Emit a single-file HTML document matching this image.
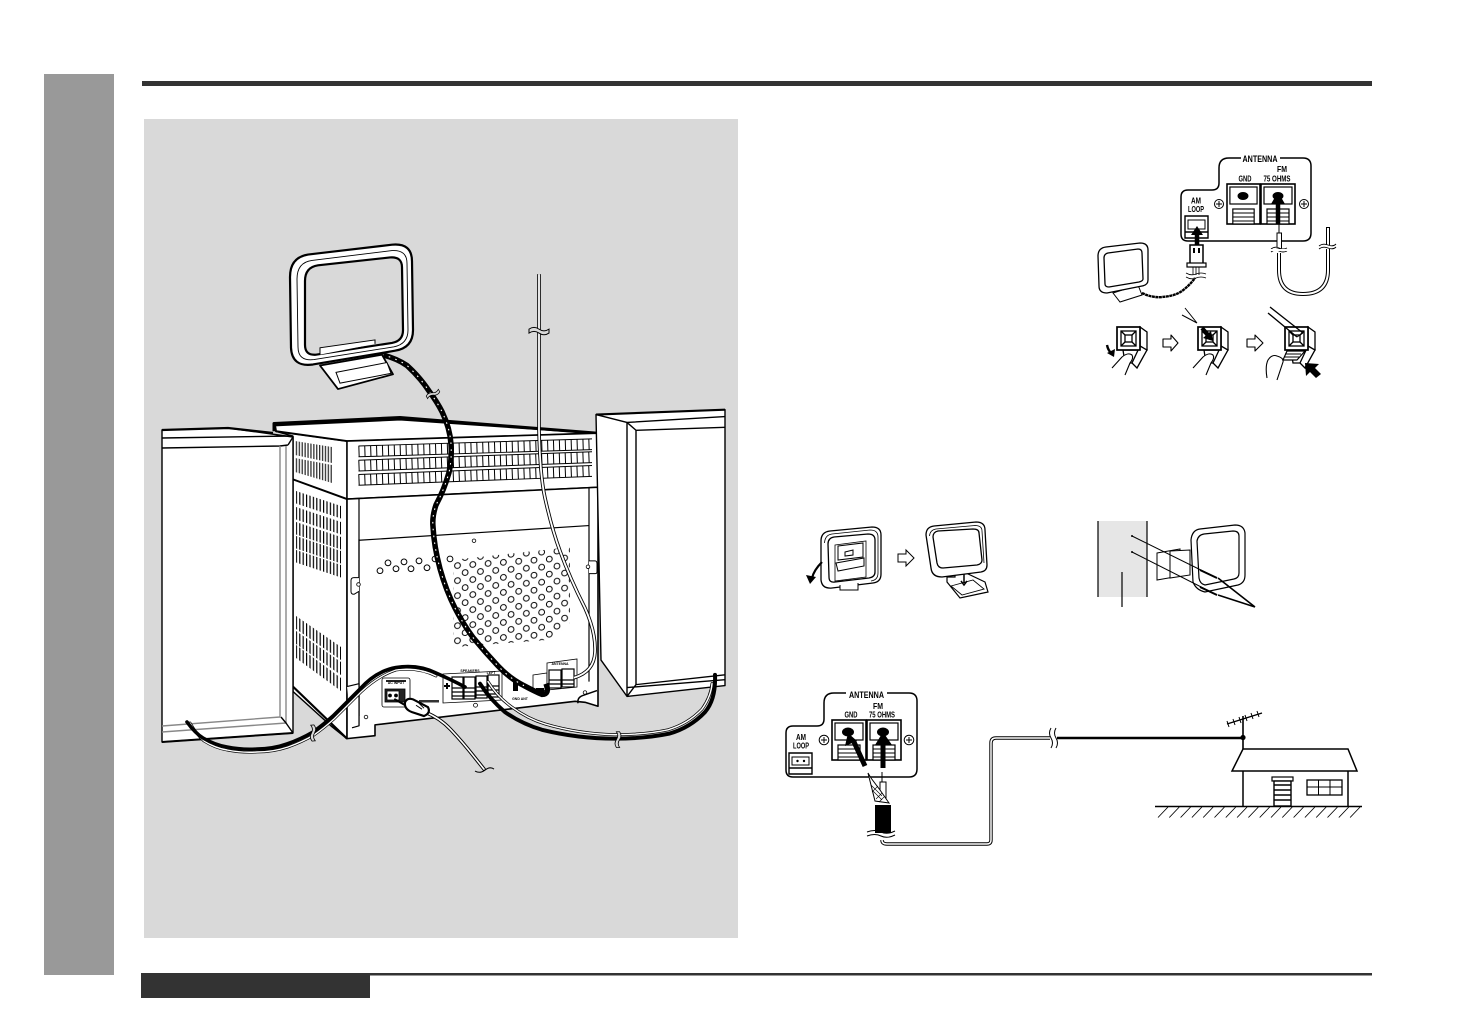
<!DOCTYPE html>
<html><head><meta charset="utf-8"><style>
html,body{margin:0;padding:0;background:#fff}
svg{display:block}
text{font-family:"Liberation Sans",sans-serif;font-weight:bold;fill:#000;text-anchor:middle}
</style></head><body>
<svg width="1458" height="1032" viewBox="0 0 1458 1032" xmlns="http://www.w3.org/2000/svg">
<defs>
<pattern id="dots" patternUnits="userSpaceOnUse" width="15.3" height="15.3" patternTransform="translate(453.7 568.27) skewY(-4.1)">
<circle cx="3.8" cy="3.8" r="2.9" fill="#fff" stroke="#000" stroke-width="1"/>
<circle cx="11.45" cy="11.45" r="2.9" fill="#fff" stroke="#000" stroke-width="1"/>
</pattern>
<pattern id="tick" patternUnits="userSpaceOnUse" width="3.4" height="10"><rect width="1.2" height="10" fill="#000"/></pattern>
<pattern id="tick2" patternUnits="userSpaceOnUse" width="2.9" height="10"><rect width="1.3" height="10" fill="#333"/></pattern>
<path id="bg" d="M-10,-2 q5,-3.5 10,0 t10,0 L10,2 q-5,3.5 -10,0 t-10,0 z" fill="#d9d9d9" stroke="#000" stroke-width="1"/>
<path id="bw" d="M-10,-2 q5,-3.5 10,0 t10,0 L10,2 q-5,3.5 -10,0 t-10,0 z" fill="#fff" stroke="#000" stroke-width="1"/>
<g id="term">
<rect x="0" y="0" width="34" height="40" fill="#fff" stroke="#000" stroke-width="1.6"/>
<rect x="3" y="3" width="28" height="17" fill="#fff" stroke="#000" stroke-width="1.2"/>
<rect x="6" y="25" width="22" height="15" fill="#fff" stroke="#000" stroke-width="1.2"/>
<path d="M6,29H28M6,33H28M6,37H28" stroke="#000" stroke-width="1.1"/>
</g>
<g id="cube" fill="#fff" stroke="#000" stroke-width="1.3">
<path d="M23,0L30,5V23L23,23Z"/>
<path d="M6,23H23L17,36H8Z"/>
<path d="M23,19L30,23L20,41L15,36Z"/>
<rect x="0" y="0" width="23" height="23" stroke-width="1.7"/>
<rect x="4" y="4" width="15" height="15"/>
<path d="M4,4L8,8M19,4L15,8M4,19L8,15M19,19L15,15"/>
<rect x="8" y="8" width="7" height="7"/>
</g>
</defs>

<!-- page frame -->
<rect x="44" y="74" width="70" height="901" fill="#999"/>
<rect x="142" y="81" width="1230" height="5" fill="#333"/>
<rect x="141" y="973" width="1231" height="2.5" fill="#333"/>
<rect x="141" y="975" width="229" height="23" fill="#333"/>
<rect x="144" y="119" width="594" height="819" fill="#d9d9d9"/>

<!-- MAIN DEVICE -->
<g transform="matrix(1 0 0 .982 0 4.1)">
<g stroke="#000" stroke-linejoin="round">
<path d="M276,435L347,445V748L331,735L293,700V440Z" fill="#fff" stroke-width="1.5"/>
<path d="M275,429L400,423L598,437L347,445L276,435Z" fill="#fff" stroke-width="2"/>
<path d="M274,435V427L400,421L598,437" fill="none" stroke-width="3"/>
<path d="M293,484L347,504" fill="none" stroke-width="2"/>
<path d="M347,445L598,437V492L347,504Z" fill="#fff" stroke-width="1.5"/>
<path d="M347,504L598,492V715L585,711L575,710L375,734V745L347,748Z" fill="#fff" stroke-width="1.6"/>
<path d="M293,695L347,748" fill="none" stroke-width="2.2"/>
<path d="M359,504V735M589,492V690" fill="none" stroke-width="1.2"/>
<path d="M359,546L589,531" fill="none" stroke-width="1.2"/>
<path d="M359,545V725" fill="none" stroke-width="1.2"/>
<path d="M359,584H354Q351,584 351,587V598Q351,601 354,601L359,598" fill="#fff" stroke-width="1"/>
<path d="M589,567H595Q597,567 597,570V578Q597,580 595,580L589,580" fill="#fff" stroke-width="1"/>
<circle cx="358.5" cy="591" r="1.8" fill="#fff" stroke-width=".8"/>
<circle cx="588" cy="573" r="1.8" fill="#fff" stroke-width=".8"/>
<circle cx="474" cy="546.5" r="1.8" fill="#fff" stroke-width=".8"/>
<circle cx="366" cy="726" r="1.8" fill="#fff" stroke-width=".8"/>
<circle cx="475.5" cy="714" r="2" fill="#fff" stroke-width=".8"/>
<circle cx="585" cy="701" r="1.8" fill="#fff" stroke-width=".8"/>
<path d="M578,712Q577,706 583,704L597,699" fill="none" stroke-width="1.5"/>
<path d="M347,695L359,692V735L352,737" fill="#fff" stroke-width="1.2"/>
</g>
<g fill="none" stroke="#000">
<path d="M358.5,455.5L592,448.2" stroke-width="11" stroke-dasharray="1 4.9"/>
<path d="M358.5,470L592,461.4" stroke-width="11" stroke-dasharray="1 4.9"/>
<path d="M358.5,484.5L592,475.4" stroke-width="11" stroke-dasharray="1 4.9"/>
<path stroke-width="1" d="M358.5,450L592,442.7M358.5,461L592,453.7M358.5,464.5L592,455.9M358.5,475.5L592,466.9M358.5,479L592,469.9M358.5,490L592,480.9"/>
</g>
<path d="M453,566L570,553L570,630L553,647L453,655Z" fill="url(#dots)"/>
<g fill="#fff" stroke="#000" stroke-width="1">
<circle cx="380" cy="577" r="2.9"/><circle cx="388" cy="569" r="2.9"/><circle cx="396" cy="575" r="2.9"/><circle cx="404" cy="568" r="2.9"/><circle cx="411" cy="575" r="2.9"/><circle cx="419" cy="567" r="2.9"/><circle cx="427" cy="574" r="2.9"/><circle cx="435" cy="565" r="2.9"/><circle cx="450" cy="565" r="2.9"/>
</g>
</g>
<!-- side vents -->
<g fill="url(#tick2)">
<path d="M295,441L332,447V463L295,455Z"/>
<path d="M295,458L332,465V483L295,472Z"/>
</g>
<g fill="url(#tick)">
<path d="M296,491L341,506V518.5L296,503.5Z"/>
<path d="M296,507L341,522V534.5L296,519.5Z"/>
<path d="M296,522L341,537V549.5L296,534.5Z"/>
<path d="M296,536L341,551V563.5L296,548.5Z"/>
<path d="M296,550L341,565V577.5L296,562.5Z"/>
<path d="M296,616L341,647V660L296,629Z"/>
<path d="M296,631L341,662V675L296,644Z"/>
<path d="M296,645L341,678V691L296,658Z"/>
</g>
<!-- rear panels -->
<g stroke="#000" fill="#fff" stroke-width=".8">
<rect x="382" y="678" width="28" height="29" rx="2"/>
<rect x="385" y="689" width="20" height="13" fill="#222"/>
<rect x="387" y="691" width="12" height="9" fill="#fff"/>
<circle cx="390" cy="695.5" r="1.5" fill="#000"/><circle cx="396" cy="695.5" r="1.5" fill="#000"/>
<path d="M443,674L502,671V700L443,703Z"/>
<path d="M533,675L547,673V690L533,692Z"/>
<path d="M547,663L577,659V687L547,690Z"/>
</g>
<rect x="386" y="680" width="20" height="2" fill="#222"/>
<g fill="#fff" stroke="#000" stroke-width="1.2">
<rect x="452" y="677" width="11" height="22"/><rect x="464" y="677" width="11" height="22"/><rect x="476" y="676" width="11" height="22"/><rect x="488" y="675" width="11" height="22"/>
<rect x="549" y="670" width="12" height="18"/><rect x="562" y="669" width="12" height="18"/>
</g>
<path d="M452,688H463M452,692H463M452,696H463M464,688H475M464,692H475M464,696H475M476,687H487M476,691H487M476,695H487M488,686H499M488,690H499M488,694H499M549,680H561M549,684H561M562,680H574M562,684H574" stroke="#000" stroke-width="1.2"/>
<rect x="513" y="681" width="5" height="10" fill="#000"/>
<rect x="536" y="688" width="8" height="4" fill="#000"/>
<rect x="419" y="700" width="20" height="2.5" fill="#333"/>
<path d="M444,686l6,0M447,683l0,6" stroke="#000" stroke-width="2"/>
<text x="396" y="684" font-size="3.5">AC INPUT</text>
<text x="470" y="672" font-size="3.5">SPEAKERS</text>
<text x="491" y="674" font-size="3.5">LEFT</text>
<text x="520" y="700" font-size="3.5">GND ANT</text>
<text x="560" y="665" font-size="3.5">ANTENNA</text>

<!-- LEFT SPEAKER -->
<g stroke="#000" stroke-width="1.4" fill="#fff" stroke-linejoin="round">
<path d="M162,430L228,428L293,437V733L162,742Z"/>
<path d="M162,430L228,428L273,433" fill="none" stroke-width="2.2"/>
<path d="M162,438L293,436M162,448L280,446M288,445L293,437M280,446L288,445" fill="none"/>
<path d="M280,446V717L162,726M286,446V723L162,732" fill="none" stroke="#888"/>
<path d="M281,717L286,723L293,733" fill="none"/>
<path d="M162,742L293,733" fill="none" stroke-width="2"/>
</g>
<!-- RIGHT SPEAKER + wires -->
<g transform="matrix(1 0 0 .982 0 4.1)">
<g stroke="#000" stroke-width="1.4" fill="#fff" stroke-linejoin="round">
<path d="M596,418L725,413V694L627,705L601,668Z"/>
<path d="M596,418L627,426L725,420M627,426V705M636,434L725,431M636,434V693L725,683M627,426L636,434M627,705L636,693M627,696L725,688" fill="none"/>
<path d="M596,418L725,413" fill="none" stroke-width="2.2"/>
</g>
<path d="M539,275V434Q540,480 545,503Q552,535 560,557Q570,585 585,615Q596,640 595,660Q594,680 574,686" fill="none" stroke="#000" stroke-width="3.6"/>
<path d="M539,275V434Q540,480 545,503Q552,535 560,557Q570,585 585,615Q596,640 595,660Q594,680 574,686" fill="none" stroke="#fff" stroke-width="1.8"/>
<use href="#bg" transform="translate(539,333)"/>
<!-- Braided loop wire -->
<path d="M382,357Q397,361 407,368Q420,380 429,394Q437,405 442,415Q450,432 451,448Q452,463 449,477Q444,495 436,510Q432,522 433,532Q434,552 440,575Q446,597 455,615Q463,631 473,645Q485,660 498,674Q510,687 524,694Q535,700 542,703Q550,703 546,692" fill="none" stroke="#000" stroke-width="5.5"/>
<path d="M382,357Q397,361 407,368Q420,380 429,394Q437,405 442,415Q450,432 451,448Q452,463 449,477Q444,495 436,510Q432,522 433,532Q434,552 440,575Q446,597 455,615Q463,631 473,645Q485,660 498,674Q510,687 524,694" fill="none" stroke="#fff" stroke-width="1.1" stroke-dasharray="1.6 5.4"/>
<use href="#bg" transform="translate(433,397) rotate(-30) scale(.7)"/>
<!-- LOOP ANTENNA -->
<path d="M320,368L338,392L393,377L382,357Z" fill="#fff" stroke="#000" stroke-width="1.8" stroke-linejoin="round"/>
<path d="M336,375L387,365L391,376L340,386Z" fill="#fff" stroke="#000" stroke-width="1"/>
<path fill-rule="evenodd" d="M290,278Q290,258 308,255L392,245Q412,243 412,262L413,332Q413,350 395,353L313,367Q292,370 291,350Z M305,282Q305,268 318,266L390,258Q402,257 402,268L403,332Q403,343 392,345L316,357Q305,358 305,347Z" fill="#fff" stroke="#000" stroke-width="2.2"/>
<path d="M297,280Q297,263 312,261L392,251Q407,250 407,264L408,332Q408,346 394,349L314,362Q298,364 298,349Z" fill="none" stroke="#000" stroke-width=".9"/>
<path d="M320,357V350L375,342V346" fill="#fff" stroke="#000" stroke-width="1"/>
<!-- right speaker cable / AC cord -->
<g fill="none" stroke-linecap="round">
<path d="M480,692Q490,708 505,721Q522,733 542,739Q578,748 615,748Q645,748 669,743Q690,737 705,721Q716,708 715,683" stroke="#000" stroke-width="4"/>
<path d="M488,690Q497,705 512,716Q528,728 545,733Q578,743 615,744Q645,744 668,739Q688,733 702,718Q711,705 712,692" stroke="#000" stroke-width="3"/>
<path d="M488,690Q497,705 512,716Q528,728 545,733Q578,743 615,744Q645,744 668,739Q688,733 702,718Q711,705 712,692" stroke="#fff" stroke-width="1.5"/>
<path d="M425,721Q440,727 451,739Q463,752 473,765L484,779" stroke="#000" stroke-width="3.6"/>
<path d="M425,721Q440,727 451,739Q463,752 473,765L484,779" stroke="#fff" stroke-width="1.6"/>
<path d="M395,708L407,715" stroke="#000" stroke-width="2"/>
</g>
<path d="M405,711Q407,706 413,708L428,716Q431,722 424,725L412,721Q404,718 405,711Z" fill="#fff" stroke="#000" stroke-width="2.2"/>
<path d="M416,714l6,4M419,712l5,5" stroke="#000" stroke-width="1"/>
<use href="#bg" transform="translate(618,749) rotate(90) scale(.8)"/>
<path d="M475,781q5,3 10,-1t9,-1" fill="none" stroke="#000" stroke-width="1"/>
</g>
<!-- left speaker cable -->
<g fill="none" stroke-linecap="round">
<path d="M190,723Q197,735 204,741Q215,748 227,750Q242,753 257,752Q273,752 288,747Q302,742 314,735Q324,728 334,719L361,692Q378,676 396,670Q418,667 436,676" stroke="#000" stroke-width="2.8"/>
<path d="M190,723Q197,735 204,741Q215,748 227,750Q242,753 257,752Q273,752 288,747Q302,742 314,735Q324,728 334,719L361,692Q378,676 396,670Q418,667 436,676" stroke="#fff" stroke-width="1.4"/>
<path d="M187,722Q195,733 203,738Q215,745 227,747Q242,750 257,749Q273,749 287,744Q301,739 313,732Q323,725 333,716L360,689Q376,671 396,667.5Q418,664 436,673Q452,680 465,687" stroke="#000" stroke-width="3.6"/>
</g>
<use href="#bg" transform="translate(313,733) rotate(85) scale(.8)"/>

<!-- TOP RIGHT: antenna panel -->
<path d="M1219,168Q1219,158 1229,158H1303Q1311,158 1311,166V233Q1311,241 1303,241H1188Q1181,241 1181,234V197Q1181,190 1188,190H1212Q1219,190 1219,183Z" fill="#fff" stroke="#000" stroke-width="1.5"/>
<rect x="1241" y="153" width="39" height="9" fill="#fff"/>
<text x="1260" y="162" font-size="9.5" textLength="35" lengthAdjust="spacingAndGlyphs">ANTENNA</text>
<text x="1282" y="172" font-size="8.5" textLength="10" lengthAdjust="spacingAndGlyphs">FM</text>
<text x="1245" y="181.5" font-size="8.5" textLength="13" lengthAdjust="spacingAndGlyphs">GND</text>
<text x="1277" y="181.5" font-size="8.5" textLength="27" lengthAdjust="spacingAndGlyphs">75 OHMS</text>
<text x="1196" y="203.5" font-size="8.5" textLength="10" lengthAdjust="spacingAndGlyphs">AM</text>
<text x="1196" y="212" font-size="8.5" textLength="16" lengthAdjust="spacingAndGlyphs">LOOP</text>
<use href="#term" transform="translate(1227,184) scale(.97,1)"/>
<use href="#term" transform="translate(1261,184)"/>
<ellipse cx="1243" cy="196" rx="5.5" ry="4" fill="#000"/>
<ellipse cx="1278" cy="196" rx="5.5" ry="4" fill="#000"/>
<g fill="#fff" stroke="#000" stroke-width="1"><circle cx="1219" cy="204" r="4.5"/><circle cx="1304" cy="204" r="4.5"/></g>
<path d="M1216,204h6M1219,201v6M1301,204h6M1304,201v6" stroke="#000" stroke-width="1"/>
<path d="M1185,216H1208V238H1185ZM1185,232H1208" fill="#fff" stroke="#000" stroke-width="1.4"/>
<path d="M1188,220H1205V229H1188Z" fill="#fff" stroke="#000"/>
<path d="M1278,224V203M1197,247V234" stroke="#000" stroke-width="4.5"/>
<path d="M1271,204L1278,192L1285,204ZM1191,235L1197,226L1203,235Z" fill="#000"/>
<rect x="1190" y="245" width="13" height="19" fill="#fff" stroke="#000" stroke-width="1.5"/>
<path d="M1193,248h2v5h-2zM1198,248h2v5h-2z" fill="#000"/>
<rect x="1187" y="263" width="19" height="4" fill="#fff" stroke="#000" stroke-width="1.2"/>
<path d="M1193,267V275M1196,267V275M1199,267V275" stroke="#000" stroke-width=".8"/>
<path d="M1186,273q5,3 10,1t10,0M1186,277q5,3 10,1t10,0" fill="none" stroke="#000" stroke-width=".8"/>
<!-- small loop -->
<path d="M1113,293L1120,302L1142,295L1138,285Z" fill="#fff" stroke="#000" stroke-width="1"/>
<path fill-rule="evenodd" d="M1098,256Q1098,248 1106,247L1140,243Q1148,243 1148,250L1148,280Q1148,285 1142,286L1107,293Q1099,293 1099,286Z M1104,258Q1104,254 1108,253L1138,249Q1142,249 1142,253L1143,279Q1143,281 1139,282L1109,287Q1105,287 1105,284Z" fill="#fff" stroke="#000" stroke-width="1.3"/>
<path d="M1142,293Q1152,298 1162,297Q1175,296 1182,291Q1190,285 1195,278" fill="none" stroke="#000" stroke-width="2.4" stroke-dasharray="3 .5"/>
<!-- FM cable -->
<path d="M1279,224V233" stroke="#000" stroke-width="1"/>
<rect x="1277" y="233" width="4.5" height="16" fill="#fff" stroke="#000"/>
<path d="M1279,253V270Q1279,294 1303,294Q1328,294 1328,270V227" fill="none" stroke="#000" stroke-width="4"/>
<path d="M1279,253V270Q1279,294 1303,294Q1328,294 1328,270V228" fill="none" stroke="#fff" stroke-width="2"/>
<path d="M1271,249q4,-3 8,-1t8,0M1271,252q4,-3 8,-1t8,0" fill="#fff" stroke="#000" stroke-width=".9"/>
<rect x="1271" y="249" width="16" height="2" fill="#fff"/>
<rect x="1320" y="245" width="16" height="4" fill="#fff"/>
<path d="M1319,246q4,-3 9,-1t8,-1M1319,249q4,-3 9,-1t8,-1" fill="none" stroke="#000" stroke-width=".9"/>
<!-- step terminals -->
<use href="#cube" transform="translate(1117,327)"/>
<use href="#cube" transform="translate(1198,327)"/>
<use href="#cube" transform="translate(1285,327)"/>
<g fill="#fff" stroke="#000" stroke-width="1.1" stroke-linejoin="round">
<path d="M1112,368L1122,357Q1128,352 1132,355Q1134,358 1130,363L1125,375"/>
<path d="M1193,368L1203,357Q1209,352 1213,355Q1215,358 1211,363L1206,375"/>
<path d="M1267,378Q1265,366 1268,360Q1272,354 1277,356Q1284,358 1283,362L1277,380" />
<path d="M1163,339H1171V335L1178,343L1171,351V347H1163Z"/>
<path d="M1247,339H1255V335L1263,343L1255,351V347H1247Z"/>
<path d="M1287,351H1305L1297,360H1283Z" stroke-width="1.2"/>
</g>
<path d="M1285,354H1301M1284,357H1299" stroke="#000"/>
<path d="M1107,345Q1108,350 1111,353" fill="none" stroke="#000" stroke-width="2.4"/>
<path d="M1107,353L1114,357L1115,349Z" fill="#000"/>
<path d="M1182,315L1197,323M1185,308L1197,323" stroke="#000" stroke-width="1"/>
<path d="M1202,328L1209,336" stroke="#000" stroke-width="4"/>
<path d="M1203,338L1213,341L1211,331Z" fill="#000"/>
<path d="M1268,313L1297,337M1270,307L1303,333" stroke="#000" stroke-width="1.3"/>
<path d="M1297,337L1303,333" stroke="#000"/>
<path d="M1305,363L1319,364L1315,368L1321,374L1316,378L1310,372L1306,376Z" fill="#000"/>

<!-- STAND ASSEMBLY -->
<path fill-rule="evenodd" d="M821,541Q821,532 830,531L872,527Q881,527 881,535L881,574Q881,582 873,583L832,588Q822,589 821,580Z M828,544Q828,538 834,537L868,534Q875,534 875,540L875,572Q875,577 869,578L835,582Q829,583 829,577Z" fill="#fff" stroke="#000" stroke-width="1.3"/>
<path d="M824.5,543Q825,535 832,534L870,530Q878,530 878,537L878,573Q878,580 871,581" fill="none" stroke="#000" stroke-width=".8"/>
<path d="M835,545L866,541V577L835,581Z" fill="#fff" stroke="#000" stroke-width=".8"/>
<path d="M838,546L863,543V557L838,560Z" fill="#fff" stroke="#000" stroke-width="1"/>
<path d="M836,563L864,558V566L838,571Z" fill="#fff" stroke="#000" stroke-width="1"/>
<path d="M845,552L853,550V555L845,556Z" fill="#fff" stroke="#000"/>
<path d="M840,585V590H858V583" fill="#fff" stroke="#000"/>
<path d="M822,562Q814,570 812,578" fill="none" stroke="#000" stroke-width="2.2"/>
<path d="M806,575L810,584L816,577Z" fill="#000"/>
<path d="M898,554H906V550L914,558L906,566V562H898Z" fill="#fff" stroke="#000"/>
<path d="M955,573V577H947V582L960,598L988,592L985,582L966,573Z" fill="#fff" stroke="#000" stroke-width="1.2"/>
<path d="M951,586L973,580L984,589L962,595Z" fill="#fff" stroke="#000" stroke-width=".9"/>
<path d="M964,574V583M961,581L964,585L967,581" fill="none" stroke="#000" stroke-width="1.5"/>
<path fill-rule="evenodd" d="M926,535Q926,527 934,526L976,522Q985,522 985,530L987,565Q987,571 981,572L942,577Q932,577 931,568Z M933,537Q933,532 938,531L973,529Q979,529 979,533L982,560Q982,564 977,565L943,568Q938,568 937,563Z" fill="#fff" stroke="#000" stroke-width="1.3"/>
<path d="M929.5,536Q930,530 936,529L975,525.5Q982,525.5 982,531L984,563" fill="none" stroke="#000" stroke-width=".8"/>
<!-- wall -->
<rect x="1098" y="521" width="49" height="76" fill="#e6e6e6"/>
<path d="M1098,521V597M1147,521V597M1122,572V607" stroke="#000" stroke-width="1.2"/>
<path d="M1157,553L1180,549V576L1157,580Z" fill="#fff" stroke="#000" stroke-width="1"/>
<path d="M1170,551L1190,550V575L1170,578Z" fill="#fff" stroke="#000" stroke-width="1"/>
<path fill-rule="evenodd" d="M1191,540Q1192,530 1200,529L1235,525Q1244,525 1245,533L1245,575Q1245,583 1238,585L1205,592Q1196,590 1193,582Z M1197,541Q1198,535 1204,534L1233,531Q1239,531 1239,536L1239,573Q1239,578 1234,579L1205,585Q1200,584 1199,578Z" fill="#fff" stroke="#000" stroke-width="1.2"/>
<path d="M1132,536L1217,578M1132,552L1217,595" stroke="#000" stroke-width="1"/>
<path d="M1200,570L1217,578M1200,587L1217,595" stroke="#000" stroke-width="2"/>
<path d="M1218,578L1255,607M1218,595L1255,607" stroke="#000" stroke-width="1.6"/>
<circle cx="1132" cy="536" r="1" fill="#000"/><circle cx="1132" cy="552" r="1" fill="#000"/>

<!-- OUTDOOR ANTENNA panel -->
<path d="M824,703Q824,693 834,693H909Q917,693 917,701V769Q917,777 909,777H793Q786,777 786,770V733Q786,726 793,726H817Q824,726 824,719Z" fill="#fff" stroke="#000" stroke-width="1.5"/>
<rect x="846" y="688" width="41" height="9" fill="#fff"/>
<text x="866.5" y="698" font-size="9.5" textLength="35" lengthAdjust="spacingAndGlyphs">ANTENNA</text>
<text x="878" y="709" font-size="8.5" textLength="10" lengthAdjust="spacingAndGlyphs">FM</text>
<text x="851" y="717.5" font-size="8.5" textLength="13" lengthAdjust="spacingAndGlyphs">GND</text>
<text x="882" y="717.5" font-size="8.5" textLength="26" lengthAdjust="spacingAndGlyphs">75 OHMS</text>
<text x="801" y="740" font-size="8.5" textLength="10" lengthAdjust="spacingAndGlyphs">AM</text>
<text x="801" y="748.5" font-size="8.5" textLength="16" lengthAdjust="spacingAndGlyphs">LOOP</text>
<use href="#term" transform="translate(832,720)"/>
<use href="#term" transform="translate(867,720)"/>
<ellipse cx="848" cy="732" rx="6" ry="4.5" fill="#000"/>
<ellipse cx="883" cy="732" rx="6" ry="4.5" fill="#000"/>
<g fill="#fff" stroke="#000" stroke-width="1"><circle cx="824" cy="740" r="4.8"/><circle cx="909" cy="740" r="4.8"/></g>
<path d="M821,740h6M824,737v6M906,740h6M909,737v6" stroke="#000" stroke-width="1"/>
<path d="M789,753H812V774H789ZM789,768H812" fill="#fff" stroke="#000" stroke-width="1.4"/>
<path d="M792,757H809V765H792Z" fill="#fff" stroke="#000"/>
<circle cx="797.5" cy="761" r="1.2"/><circle cx="804" cy="761" r="1.2"/>
<path d="M865,766L854,742M883,768V742" stroke="#000" stroke-width="5"/>
<path d="M848,733L845,746L857,741ZM883,732L875,745H892Z" fill="#000"/>
<path d="M882,772V782" stroke="#000" stroke-width="1"/>
<rect x="880" y="782" width="6" height="16" fill="#fff" stroke="#000"/>
<path d="M868,773L875,801L889,803L880,790L871,778Z" fill="#fff" stroke="#000"/>
<path d="M871,785l11,11M873,791l9,9M876,799l6,-6M879,802l5,-5M878,786l-6,6" stroke="#000" stroke-width=".6"/>
<rect x="875" y="805" width="16" height="28" fill="#000"/>
<path d="M867,832q8,-3 14,0t14,-1M867,836q8,-3 14,0t14,-1" fill="none" stroke="#000" stroke-width="1"/>
<path d="M882,840Q882,844 887,844H987Q991,844 991,840V743Q991,738 996,738H1050" fill="none" stroke="#000" stroke-width="3.4"/>
<path d="M882,840Q882,844 887,844H987Q991,844 991,840V743Q991,738 996,738H1050" fill="none" stroke="#fff" stroke-width="1.5"/>
<path d="M1051,728q-3,5 0,10t0,10M1056,728q-3,5 0,10t0,10" fill="none" stroke="#000" stroke-width="1"/>
<path d="M1057,738H1243" stroke="#000" stroke-width="2.4"/>
<circle cx="1243" cy="737.5" r="2.6" fill="#000"/>
<path d="M1243,716V749" stroke="#000" stroke-width="1.6"/>
<path d="M1227,724L1262,713" stroke="#000" stroke-width="1.4"/>
<path d="M1227,721l2,6M1233,719l2,6M1239,717l2,6M1245,715l2,6M1251,713l2,6M1257,711l2,6" stroke="#000"/>
<!-- house -->
<path d="M1243,749H1348L1357,771H1232Z" fill="#fff" stroke="#000" stroke-width="1.5"/>
<path d="M1243,771V806M1348,771V806" stroke="#000" stroke-width="1.5"/>
<rect x="1272" y="777" width="21" height="4" fill="#fff" stroke="#000" stroke-width="1.2"/>
<rect x="1274" y="781" width="17" height="25" fill="#fff" stroke="#000" stroke-width="1.4"/>
<path d="M1274,785H1291M1274,790H1291M1274,795H1291M1274,800H1291" stroke="#000" stroke-width="1.6"/>
<rect x="1307" y="780" width="35" height="15" fill="#fff" stroke="#000" stroke-width="1.3"/>
<path d="M1318.5,780V795M1330,780V795M1307,787H1342" stroke="#000"/>
<path d="M1155,806.5H1362" stroke="#000" stroke-width="1.4"/>
<path d="M1168,807l-10,10.5M1179.3,807l-10,10.5M1190.6,807l-10,10.5M1201.9,807l-10,10.5M1213.2,807l-10,10.5M1224.5,807l-10,10.5M1235.8,807l-10,10.5M1247.1,807l-10,10.5M1258.4,807l-10,10.5M1269.7,807l-10,10.5M1281,807l-10,10.5M1292.3,807l-10,10.5M1303.6,807l-10,10.5M1314.9,807l-10,10.5M1326.2,807l-10,10.5M1337.5,807l-10,10.5M1348.8,807l-10,10.5M1360.1,807l-10,10.5" stroke="#000" stroke-width=".9"/>
</svg>
</body></html>
